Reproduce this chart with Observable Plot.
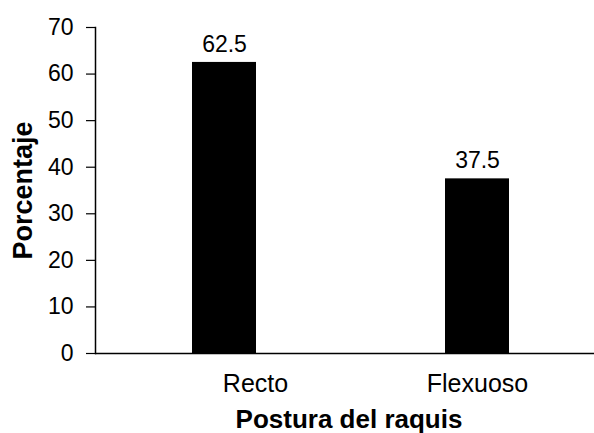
<!DOCTYPE html>
<html>
<head>
<meta charset="utf-8">
<script src="https://cdn.jsdelivr.net/npm/d3@7"></script>
<script src="https://cdn.jsdelivr.net/npm/@observablehq/plot@0.6"></script>
<style>
  body { margin: 0; background: #fff; }
</style>
</head>
<body>
<div id="chart"></div>
<script>
// Rachis posture categories and their share (%)
const categories = ["Recto", "Flexuoso"];
const percentages = [62.5, 37.5];
const yTicks = [0, 10, 20, 30, 40, 50, 60, 70];
const xTitle = "Postura del raquis";
const yTitle = "Porcentaje";

const data = categories.map((category, i) => ({category, value: percentages[i]}));

const font = "'Liberation Sans', Arial, Helvetica, sans-serif";

const chart = Plot.plot({
  width: 594,
  height: 433,
  marginLeft: 95,
  marginRight: 0,
  marginTop: 27,
  marginBottom: 80,
  style: {fontFamily: font, color: "black", background: "white"},
  x: {domain: categories, range: [95, 605], paddingInner: 0.748, paddingOuter: 0.378, axis: null},
  y: {domain: [0, 70], axis: null},
  marks: [
    Plot.barY(data, {x: "category", y: "value", fill: "black"}),
    Plot.ruleY([0], {stroke: "black", strokeWidth: 1.5}),
    Plot.frame({anchor: "left", stroke: "black", strokeWidth: 1.5}),
    Plot.axisY({ticks: yTicks, tickSize: 9, tickPadding: 13, fontSize: 23, label: null, tickFormat: d => String(d), strokeWidth: 1.2}),
    Plot.axisX({ticks: [categories[0]], tickSize: 0, tickPadding: 21, fontSize: 25, label: null, dx: 31}),
    Plot.axisX({ticks: [categories[1]], tickSize: 0, tickPadding: 21, fontSize: 25, label: null}),
    Plot.text(data, {x: "category", y: "value", text: d => String(d.value), dy: -18, fontSize: 23}),
    Plot.text([xTitle], {frameAnchor: "bottom", lineAnchor: "bottom", dy: 74, dx: 4, fontSize: 26, fontWeight: "bold"}),
    Plot.text([yTitle], {frameAnchor: "left", textAnchor: "middle", rotate: -90, dx: -72, fontSize: 27, fontWeight: "bold"})
  ]
});

document.getElementById("chart").append(chart);
</script>
</body>
</html>
